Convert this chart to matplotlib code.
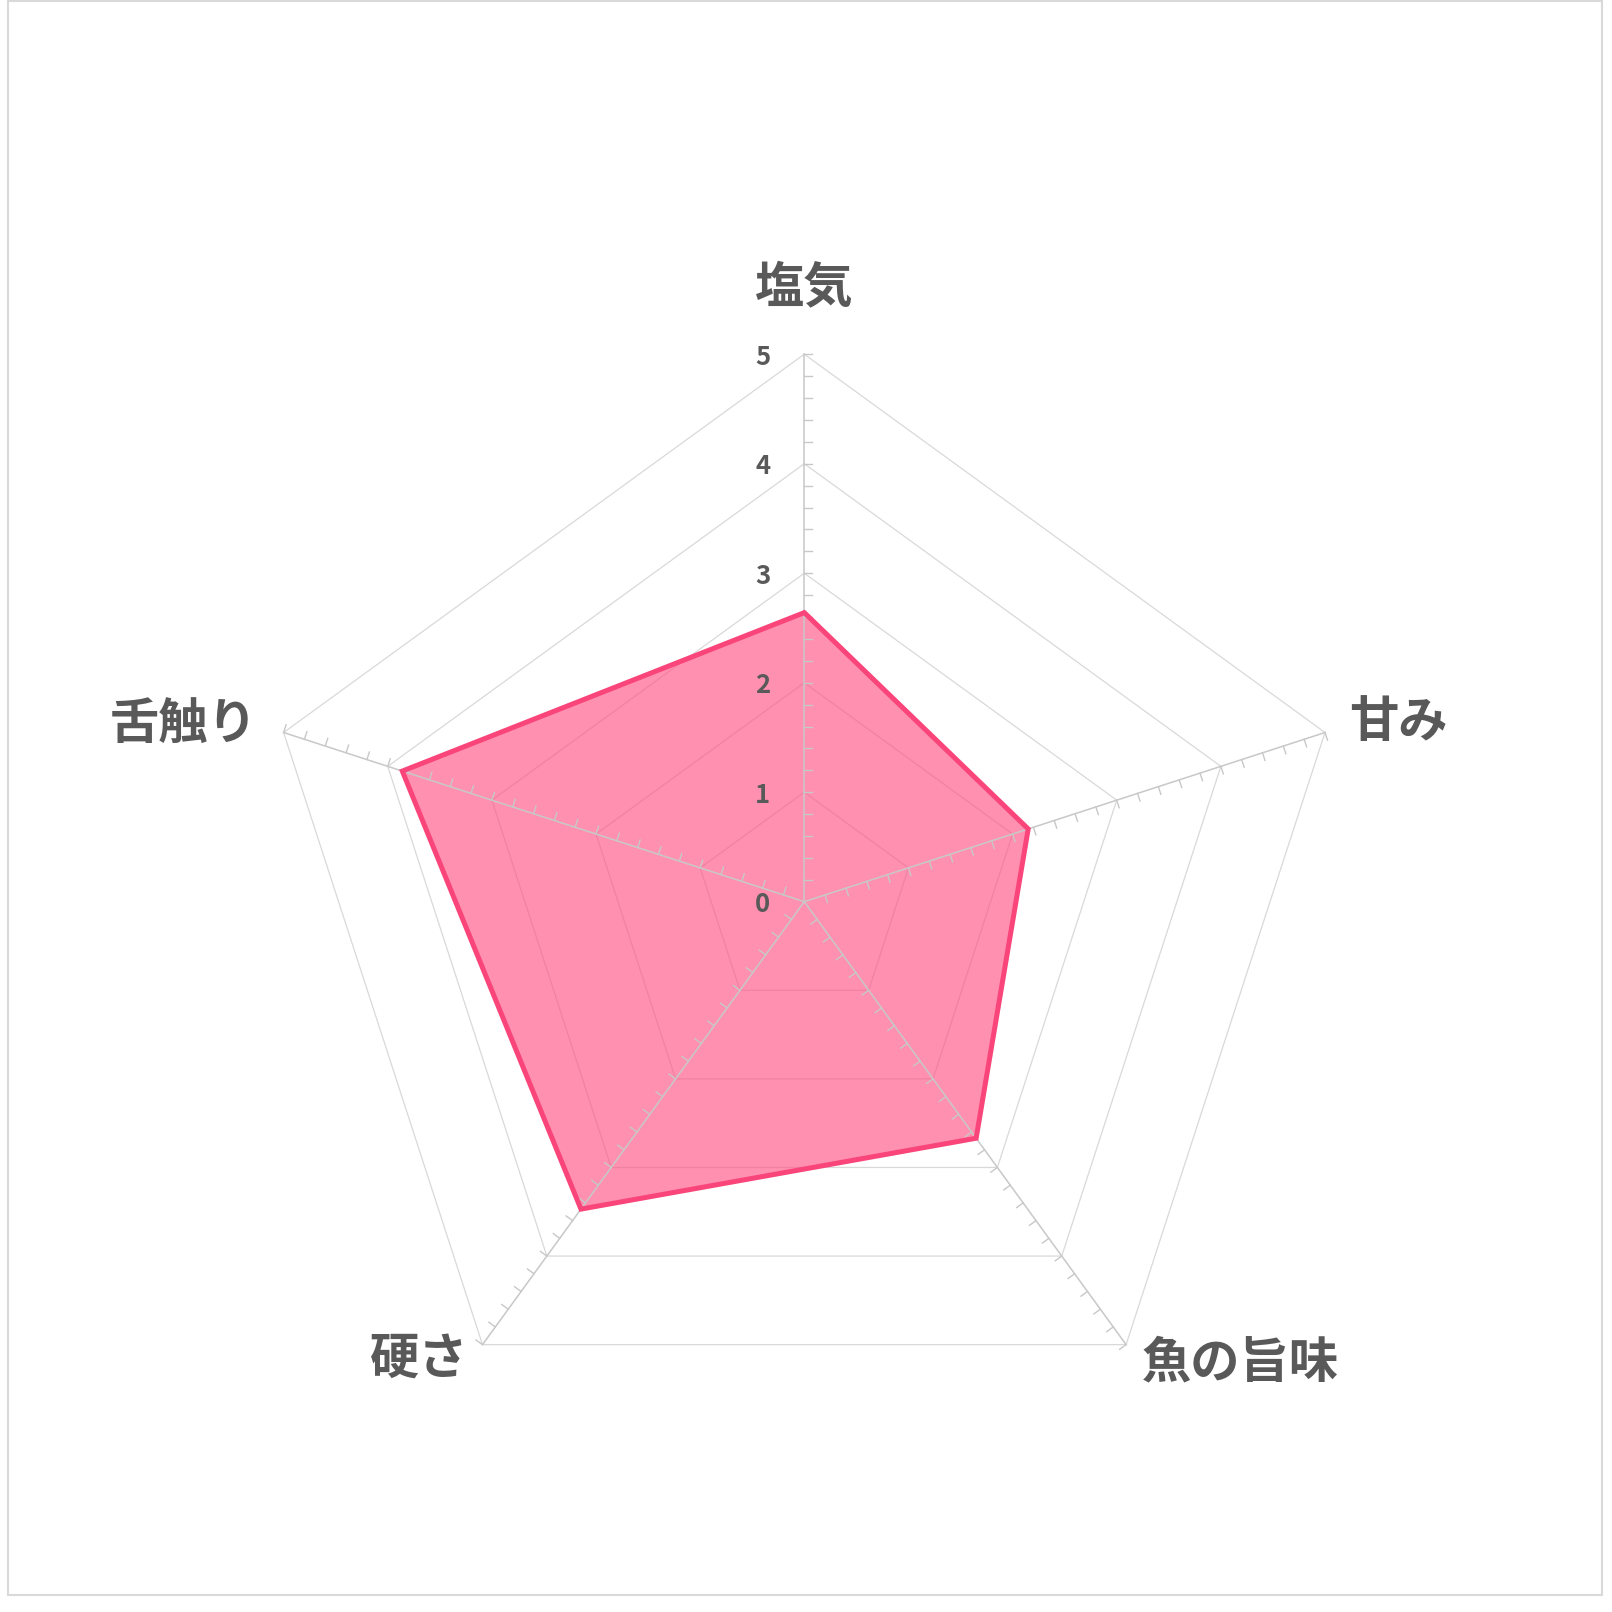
import numpy as np
import matplotlib
matplotlib.use("Agg")
import matplotlib.pyplot as plt
from matplotlib.patches import Rectangle, Polygon

plt.rcParams['font.family'] = ['Noto Sans CJK JP', 'DejaVu Sans']

# data
categories = ['塩気', '甘み', '魚の旨味', '硬さ', '舌触り']
values = [2.64, 2.15, 2.67, 3.47, 3.86]
ring_levels = [1, 2, 3, 4, 5]
tick_labels = ['0', '1', '2', '3', '4', '5']
minor_step = 0.2
r_max = 5

TEXT = '#595959'
GRID = '#d9d9d9'
SPOKE = '#c8c8c8'
FILL = '#ff4f82'
EDGE = '#f9457a'

W = H = 1612
DPI = 100
cx, cy = 804.3, 901.7      # centre in pixels (from top-left)
unit = 109.5               # pixels per unit

fig = plt.figure(figsize=(W / DPI, H / DPI), dpi=DPI)
ax = fig.add_axes([0, 0, 1, 1])
ax.set_xlim(-cx / unit, (W - cx) / unit)
ax.set_ylim(-(H - cy) / unit, cy / unit)
ax.set_aspect('equal')
ax.axis('off')

n = len(categories)
ang = np.pi / 2 - 2 * np.pi * np.arange(n) / n
ux, uy = np.cos(ang), np.sin(ang)

# rings
for lv in ring_levels:
    xs = np.append(lv * ux, lv * ux[0])
    ys = np.append(lv * uy, lv * uy[0])
    ax.plot(xs, ys, color=GRID, lw=0.9, zorder=1)

# series
vals = np.array(values)
ax.add_patch(Polygon(np.c_[vals * ux, vals * uy], closed=True,
                     facecolor=FILL, alpha=0.63, edgecolor='none', zorder=2))
ax.add_patch(Polygon(np.c_[vals * ux, vals * uy], closed=True,
                     facecolor='none', edgecolor=EDGE, lw=3.6,
                     joinstyle='miter', zorder=4))

# spokes with minor ticks
tick_len = 8 / unit
minors = np.arange(minor_step, r_max + 1e-9, minor_step)
for i in range(n):
    ax.plot([0, r_max * ux[i]], [0, r_max * uy[i]], color=SPOKE, lw=1.1, zorder=3)
    px, py = uy[i], -ux[i]   # clockwise perpendicular
    for m in minors:
        x0, y0 = m * ux[i], m * uy[i]
        ax.plot([x0, x0 + tick_len * px], [y0, y0 + tick_len * py],
                color=SPOKE, lw=1.0, zorder=3)

# value labels on the vertical axis
for k, lab in enumerate(tick_labels):
    ax.annotate(lab, (0, k), xytext=(-34, -3), textcoords='offset pixels',
                ha='right', va='center', fontsize=18.5, fontweight='bold',
                color=TEXT)

# category labels
label_pos = [('center', 0, 66), ('left', 24, 10), ('left', 16, -18),
             ('right', -14, -15), ('right', -26, 7)]
for i, cat in enumerate(categories):
    ha, dx, dy = label_pos[i]
    ax.annotate(cat, (r_max * ux[i], r_max * uy[i]), xytext=(dx, dy),
                textcoords='offset pixels', ha=ha, va='center',
                fontsize=35.5, fontweight='bold', color=TEXT)

# frame
fig.patches.append(Rectangle((8 / W, 17 / H), 1594 / W, 1594 / H,
                             transform=fig.transFigure, fill=False,
                             edgecolor=GRID, lw=1.5))

fig.savefig('out.png', dpi=DPI, facecolor='white')
